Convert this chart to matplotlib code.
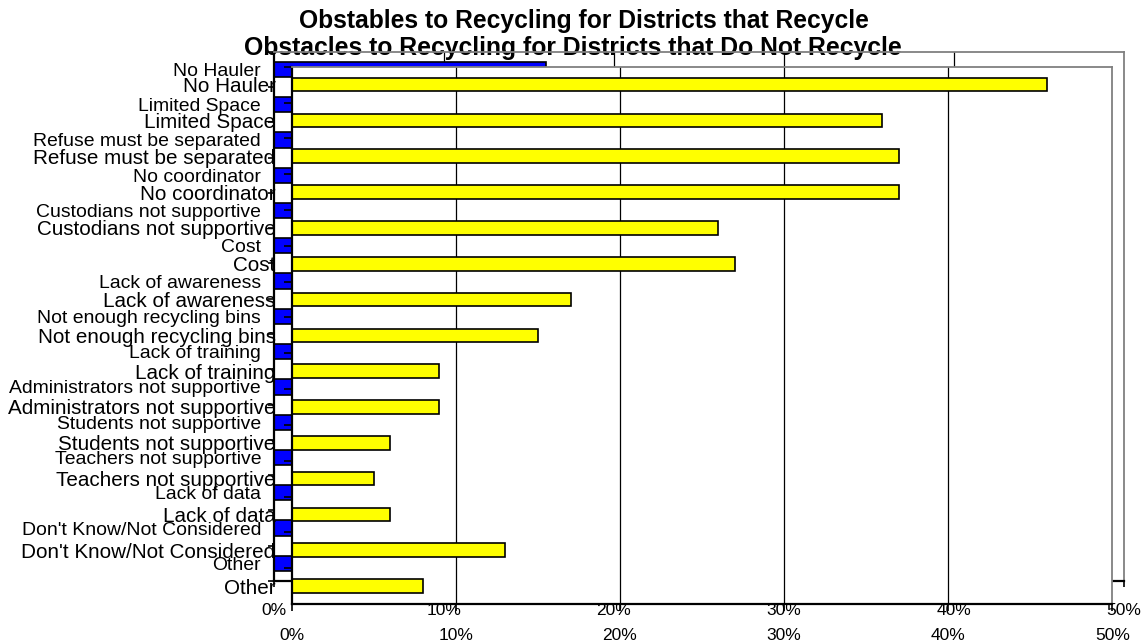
import matplotlib
matplotlib.use("Agg")
import matplotlib.pyplot as plt
from matplotlib.ticker import FixedLocator
import numpy as np

plt.rcParams['font.family'] = ['Liberation Sans', 'DejaVu Sans']

categories = ["No Hauler", "Limited Space", "Refuse must be separated", "No coordinator",
              "Custodians not supportive", "Cost", "Lack of awareness",
              "Not enough recycling bins", "Lack of training",
              "Administrators not supportive", "Students not supportive",
              "Teachers not supportive", "Lack of data", "Don't Know/Not Considered", "Other"]

# Districts that recycle (mostly hidden behind the front chart)
recycle_vals = [16, 12, 14, 10, 9, 11, 7, 8, 5, 3, 4, 2, 3, 4, 6]
# Districts that do not recycle
not_recycle_vals = [46, 36, 37, 37, 26, 27, 17, 15, 9, 9, 6, 5, 6, 13, 8]

xticks = [0, 10, 20, 30, 40, 50]
xtick_labels = ["0%", "10%", "20%", "30%", "40%", "50%"]

title1 = "Obstables to Recycling for Districts that Recycle"
title2 = "Obstacles to Recycling for Districts that Do Not Recycle"

W, H = 1146, 643
fig = plt.figure(figsize=(W / 100, H / 100), dpi=100)
fig.patch.set_facecolor("white")

def frac(l, r, t, b):
    return [l / W, (H - b) / H, (r - l) / W, (b - t) / H]

GRAY = "#808080"

def style_axes(ax, ylab_size, ytick_len, ypad, xpad, xtick_len, minor_pos):
    n = len(categories)
    y = np.arange(n)
    ax.set_xlim(0, 50)
    ax.set_ylim(n - 0.5, -0.5)
    ax.set_yticks(y)
    ax.set_yticklabels(categories, fontsize=ylab_size)
    ax.yaxis.set_minor_locator(FixedLocator(minor_pos))
    ax.tick_params(axis="y", which="major", length=0, pad=ypad + ytick_len)
    ax.tick_params(axis="y", which="minor", length=ytick_len, width=1.2, color="black", direction="out")
    ax.set_xticks(xticks)
    ax.set_xticklabels(xtick_labels, fontsize=12.5)
    ax.tick_params(axis="x", length=xtick_len, width=1.2, pad=xpad, direction="out")
    for xv in xticks[1:-1]:
        ax.axvline(xv, color="black", lw=0.9, zorder=0.5)
    ax.spines["top"].set_color(GRAY)
    ax.spines["right"].set_color(GRAY)
    ax.spines["top"].set_linewidth(1.3)
    ax.spines["right"].set_linewidth(1.3)
    ax.spines["left"].set_linewidth(1.6)
    ax.spines["bottom"].set_linewidth(1.6)

# Title texts (below the back chart frame)
fig.text(584 / W, (H - 28) / H, title1, ha="center", va="baseline",
         fontsize=17.75, fontweight="bold", zorder=0.2)
fig.text(573 / W, (H - 55) / H, title2, ha="center", va="baseline",
         fontsize=17.8, fontweight="bold", zorder=0.2)

n = len(categories)

# Back chart: districts that recycle
ax_back = fig.add_axes(frac(274, 1123.5, 51.7, 581), zorder=1)
ax_back.set_facecolor("none")
ax_back.barh(np.arange(n), recycle_vals, height=0.43,
             color="#0000FF", edgecolor="black", linewidth=1.2, zorder=2)
style_axes(ax_back, 13.95, 4.3, 5.0, 11.5, 4.3, np.arange(n + 1) - 0.5)

# Front chart: districts that do not recycle
ax_front = fig.add_axes(frac(291.5, 1112.3, 66.7, 604), zorder=2)
ax_front.set_facecolor("white")
ax_front.barh(np.arange(n), not_recycle_vals, height=0.38,
              color="#FFFF00", edgecolor="black", linewidth=1.2, zorder=2)
style_axes(ax_front, 14.85, 5.5, 6.0, 12.0, 5.0, np.arange(n) - 0.5)

fig.savefig("out.png", dpi=100, facecolor="white")
